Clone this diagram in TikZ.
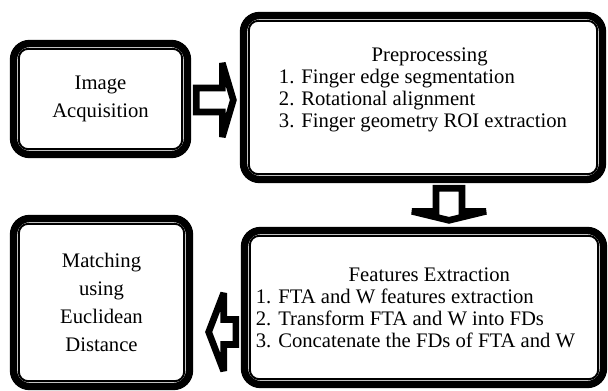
\documentclass[tikz,border=0pt]{standalone}
\usepackage{fontspec}
\setmainfont{Liberation Serif}
\usetikzlibrary{calc}

\begin{document}
\begin{tikzpicture}[x=0.75pt,y=-0.75pt,
	stage/.style={draw, fill=white, line width=5.5pt, rounded corners=12pt},
	innerline/.style={draw=black, line width=1.5pt, rounded corners=7pt},
	blockarrow/.style={draw, fill=white, line width=5pt, line join=miter, miter limit=2}]
	\useasboundingbox (0,0) rectangle (608,390);
	\node[stage, align=center, minimum width=174*0.75pt, minimum height=111*0.75pt, font=\fontsize{15.5}{21}\selectfont] (acq) at (100.5,99) {Image\\Acquisition};
	\node[stage, minimum width=359*0.75pt, minimum height=164*0.75pt, font=\fontsize{15.5}{16.5}\selectfont] (pre) at (423,97.5) {\begin{tabular}{@{}l@{}}\multicolumn{1}{@{\hspace{10pt}}c@{}}{Preprocessing}\\ 1. Finger edge segmentation\\ 2. Rotational alignment\\ 3. Finger geometry ROI extraction\rule[-15.4pt]{0pt}{15.4pt}\end{tabular}};
	\node[stage, align=center, minimum width=176*0.75pt, minimum height=168*0.75pt, font=\fontsize{15.5}{21}\selectfont] (match) at (101.5,302.5) {Matching\\using\\Euclidean\\Distance};
	\node[stage, minimum width=359*0.75pt, minimum height=154*0.75pt, font=\fontsize{15.5}{16.5}\selectfont] (feat) at (424,307.5) {\begin{tabular}{@{}l@{\hspace{12.75pt}}}\multicolumn{1}{@{\hspace{8pt}}c@{}}{\rule{0pt}{16pt}Features Extraction}\\ 1. FTA and W features extraction\\ 2. Transform FTA and W into FDs\\ 3. Concatenate the FDs of FTA and W\end{tabular}};
	\foreach \n in {acq,pre,match,feat}
		\draw[innerline] ($(\n.north west)+(9,9)$) rectangle ($(\n.south east)+(-9,-9)$);
	\coordinate (r0) at ($(acq.east)+(5,1)$);
	\coordinate (r1) at (r0 -| pre.west);
	\draw[blockarrow] ($(r0)+(0,-12)$) -- ($(r1)+(-17.5,-12)$) -- ($(r1)+(-17.5,-37)$) -- ($(r1)+(-6.5,0)$) -- ($(r1)+(-17.5,37)$) -- ($(r1)+(-17.5,12)$) -- ($(r0)+(0,12)$) -- cycle;
	\coordinate (d0) at ($(pre.south)+(26,5)$);
	\coordinate (d1) at (d0 |- feat.north);
	\draw[blockarrow] ($(d0)+(-13,0)$) -- ($(d1)+(-13,-15.5)$) -- ($(d1)+(-37,-15.5)$) -- ($(d1)+(0,-6.5)$) -- ($(d1)+(37,-15.5)$) -- ($(d1)+(13,-15.5)$) -- ($(d0)+(13,0)$) -- cycle;
	\coordinate (l0) at ($(feat.west)+(-5,24.5)$);
	\coordinate (l1) at (l0 -| match.east);
	\draw[blockarrow] ($(l0)+(0,-12.5)$) -- ($(l1)+(30.5,-12.5)$) -- ($(l1)+(30.5,-39)$) -- ($(l1)+(15.5,0)$) -- ($(l1)+(30.5,39)$) -- ($(l1)+(30.5,12.5)$) -- ($(l0)+(0,12.5)$) -- cycle;
\end{tikzpicture}
\end{document}
